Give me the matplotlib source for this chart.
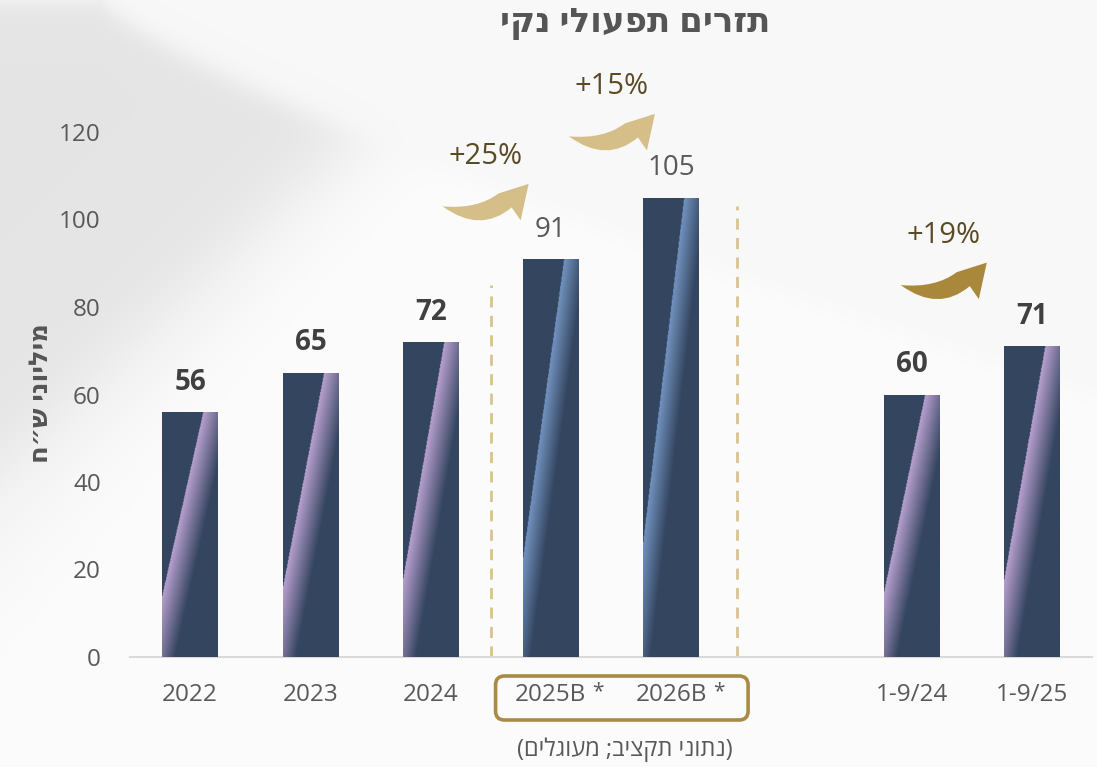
import matplotlib
matplotlib.use("Agg")
import matplotlib.pyplot as plt
import numpy as np
from matplotlib.patches import FancyBboxPatch, PathPatch
from matplotlib.path import Path
from matplotlib.transforms import Affine2D, IdentityTransform

plt.rcParams['font.family'] = ['Open Sans', 'DejaVu Sans']


def heb(s):
    # matplotlib has no bidi support: flip to visual order
    return s[::-1].translate(str.maketrans('()', ')('))


# data
categories = ['2022', '2023', '2024', '2025B', '2026B', '1-9/24', '1-9/25']
positions = [0, 1, 2, 3, 4, 6, 7]
values = [56, 65, 72, 91, 105, 60, 71]
budget = [False, False, False, True, True, False, False]
growth_labels = ['+25%', '+15%', '+19%']
arrow_x = [2.1, 3.15, 5.91]
arrow_y = [103, 119, 85]
arrow_colors = ['#d5be87', '#d5be87', '#a9883b']
title = 'תזרים תפעולי נקי'
ylabel = 'מיליוני ש״ח'
note = '(נתוני תקציב; מעוגלים)'

navy = np.array([0x34, 0x45, 0x5f]) / 255
lilac = np.array([0xb8, 0xa0, 0xd0]) / 255
steel = np.array([0x72, 0x93, 0xc0]) / 255

W, H = 1097, 767
fig = plt.figure(figsize=(W / 100, H / 100), dpi=100)

# background: grey swoosh top-left on near white
bg = fig.add_axes([0, 0, 1, 1], zorder=-10)
Y, X = np.mgrid[0:H:2, 0:W:2].astype(float)


def sig(z):
    return 1 / (1 + np.exp(-z))


arc = 110 * np.clip((X - 100) / 200, 0, None) ** 0.8
below_arc = sig((Y - arc) / 8)
above_diag = sig((470 - 0.95 * X - Y) / 30)
g = 0.988 - 0.07 * below_arc * above_diag - 0.015 * (1 - below_arc)
g -= 0.02 * sig((600 - 1.2 * X - Y) / 40) * below_arc
g = np.clip(g, 0, 1)
bg.imshow(np.dstack([g, g, g]), extent=(0, 1, 0, 1), aspect='auto', origin='upper')
bg.axis('off')

ax = fig.add_axes([130 / W, 110 / H, 962 / W, 612.5 / H])
ax.patch.set_alpha(0)
ax.set_xlim(-0.5, 7.5)
ax.set_ylim(0, 140)

bars = ax.bar(positions, values, width=0.46, color=navy, zorder=2)

# diagonal sheen on each bar
vv, uu = np.mgrid[0:1:300j, 0:1:80j]
line_u = (vv - 0.25) / 0.75 * 0.74
for rect, b in zip(bars, budget):
    light = steel if b else lilac
    fade = 0.38 if b else 0.48
    t = (uu - line_u) / fade
    t = np.where(uu < line_u, 1.0, np.clip(t, 0, 1))
    img = light[None, None, :] * (1 - t[..., None]) + navy[None, None, :] * t[..., None]
    x0 = rect.get_x()
    im = ax.imshow(img, extent=(x0, x0 + rect.get_width(), 0, rect.get_height()),
                   origin='lower', aspect='auto', zorder=3, interpolation='bilinear')
    im.set_clip_path(rect)
ax.set_xlim(-0.5, 7.5)
ax.set_ylim(0, 140)

for x, v, b in zip(positions, values, budget):
    ax.annotate(str(v), (x, v), xytext=(0, 11), textcoords='offset points',
                ha='center', va='bottom', fontsize=20,
                fontweight='normal' if b else 'bold',
                color='#595959' if b else '#404040')

# separators
ax.plot([2.5, 2.5], [0, 85], ls=(0, (4, 3)), color='#d8c491', lw=2, zorder=1)
ax.plot([4.55, 4.55], [0, 103], ls=(0, (4, 3)), color='#d8c491', lw=2, zorder=1)

ax.set_xticks(positions)
ax.set_xticklabels(categories)
ax.set_yticks(range(0, 121, 20))
ax.tick_params(axis='both', length=0, labelsize=17.5, colors='#595959')
ax.tick_params(axis='x', pad=19)
ax.tick_params(axis='y', pad=21)
for s in ['left', 'right', 'top']:
    ax.spines[s].set_visible(False)
ax.spines['bottom'].set_color('#d9d9d9')
ax.spines['bottom'].set_linewidth(1.5)

for x, b in zip(positions, budget):
    if b:
        ax.annotate('*', (x, 0), xycoords=('data', 'axes fraction'),
                    xytext=(34, -25), textcoords='offset points',
                    ha='center', va='center', fontsize=15, color='#595959')

# box around budget years
bx0 = ax.transData.transform((2.54, 0))
bx1 = ax.transData.transform((4.64, 0))
box = FancyBboxPatch((bx0[0], bx0[1] - 63), bx1[0] - bx0[0], 44,
                     boxstyle='round,pad=0,rounding_size=9',
                     transform=IdentityTransform(), fill=False,
                     edgecolor='#a98b46', lw=2.6, clip_on=False)
ax.add_artist(box)

# growth arrows
verts = [(0, 0), (35, -3), (56, 13), (86, 22.5), (78, -14), (69, -1),
         (37.5, -27.5), (0, 0), (0, 0)]
codes = [Path.MOVETO, Path.CURVE3, Path.CURVE3, Path.LINETO, Path.LINETO,
         Path.LINETO, Path.CURVE3, Path.CURVE3, Path.CLOSEPOLY]
shape = Path(verts, codes)
for lab, axx, ayy, c in zip(growth_labels, arrow_x, arrow_y, arrow_colors):
    px, py = ax.transData.transform((axx, ayy))
    tr = Affine2D().translate(px, py)
    ax.add_artist(PathPatch(shape, transform=tr, facecolor=c, edgecolor='none',
                            clip_on=False))
    ax.annotate(lab, (axx, ayy), xytext=(31, 36), textcoords='offset points',
                ha='center', va='center', fontsize=21, color='#5b4a26')

fig.text(635 / W, 1 - 23 / H, heb(title), ha='center', va='center',
         fontsize=24.5, fontweight='bold', color='#555555')
fig.text(40 / W, 1 - 393 / H, heb(ylabel), ha='center', va='center', rotation=90,
         fontsize=18.5, fontweight='bold', color='#555555')
fig.text(625 / W, 1 - 750 / H, heb(note), ha='center', va='center',
         fontsize=17, color='#595959')

fig.savefig('out.png', dpi=100)
